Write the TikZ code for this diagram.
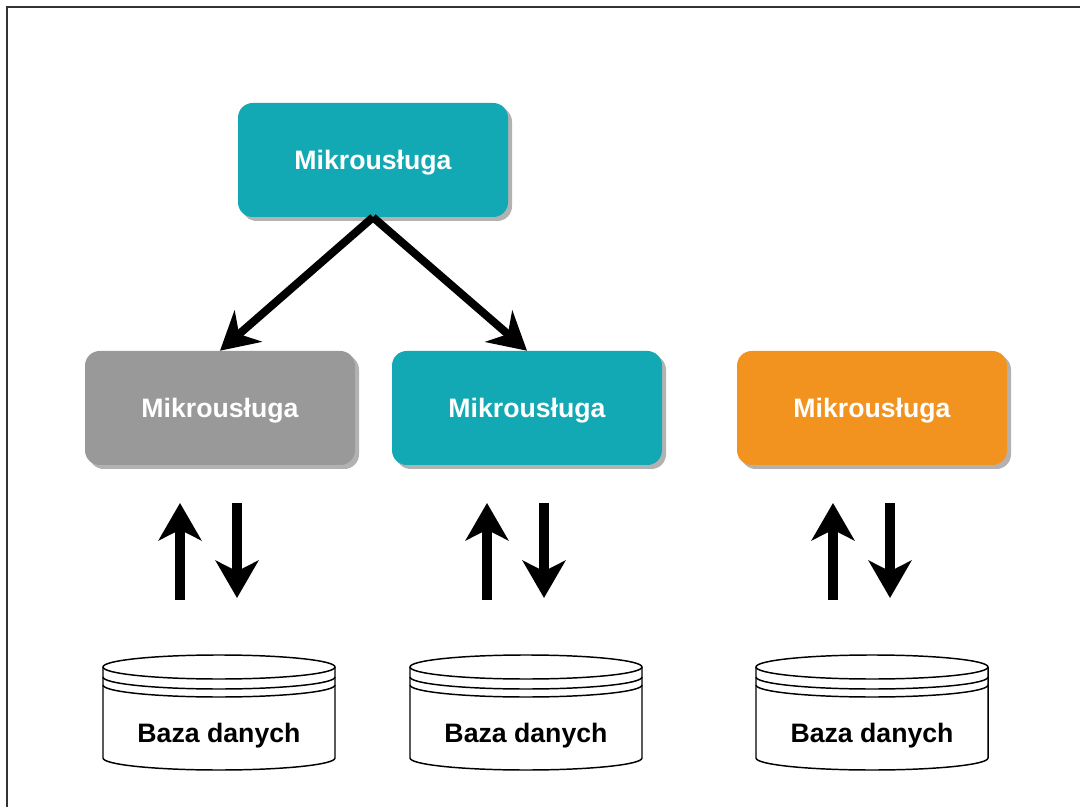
\documentclass[tikz,border=0pt]{standalone}
\usepackage{fontspec}
\setmainfont{Liberation Sans}
\usetikzlibrary{arrows.meta,shadows}
\definecolor{msteal}{HTML}{13A9B4}
\definecolor{msgray}{HTML}{999999}
\definecolor{msorange}{HTML}{F2931F}
\begin{document}
\begin{tikzpicture}
  [x=0.75pt,y=0.75pt,
   service/.style={rectangle,rounded corners=11pt,minimum width=202.5pt,minimum height=85.5pt,
     text=white,font=\fontsize{20}{24}\selectfont\bfseries,text height=19pt,text depth=4.2pt,
     drop shadow={shadow xshift=3pt,shadow yshift=-3pt,fill=black,opacity=.3}},
   flow/.style={line width=6pt,-{Stealth[length=28pt,width=31pt,inset=9pt]}},
   dbflow/.style={line width=7pt,-{Stealth[length=28pt,width=32pt,inset=8pt]}},
   dbline/.style={line width=1.1pt},
   dblabel/.style={font=\fontsize{20}{24}\selectfont\bfseries}]
  \useasboundingbox (0,0) rectangle (1080,807);
  \draw[line width=1.3pt,black!80] (7,0) -- (7,800) -- (1080,800);

  \node[service,fill=msteal] (top) at (373,647) {Mikrousługa};
  \node[service,fill=msgray] (left) at (220,399) {Mikrousługa};
  \node[service,fill=msteal] (mid) at (527,399) {Mikrousługa};
  \node[service,fill=msorange] (right) at (872,399) {Mikrousługa};
  \draw[flow] (top.south) -- (left.north);
  \draw[flow] (top.south) -- (mid.north);

  \foreach \col/\x in {l/219,m/526,r/872}{
    % baza danych
    \draw[dbline] (\x-116,140) -- (\x-116,49) arc[start angle=180,end angle=360,x radius=87pt,y radius=9pt] -- (\x+116,140);
    \draw[dbline] (\x,140) ellipse[x radius=87pt,y radius=9pt];
    \draw[dbline] (\x-116,130) arc[start angle=180,end angle=360,x radius=87pt,y radius=9pt];
    \draw[dbline] (\x-116,122) arc[start angle=180,end angle=360,x radius=87pt,y radius=9pt];
    \node[dblabel] (db\col) at (\x,71) {Baza danych};
    \coordinate (a\col) at (\x-39,207);
    \coordinate (b\col) at (\x-39,304);
    \coordinate (c\col) at (\x+18,304);
    \coordinate (d\col) at (\x+18,209);
    \draw[dbflow] (a\col) -- (b\col);
    \draw[dbflow] (c\col) -- (d\col);
  }
\end{tikzpicture}
\end{document}
